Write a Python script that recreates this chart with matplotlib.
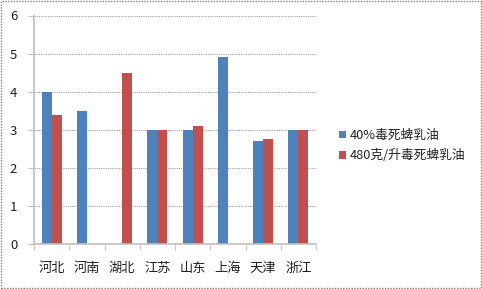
import matplotlib
matplotlib.use("Agg")
import matplotlib.pyplot as plt
import numpy as np
from matplotlib.patches import Rectangle

plt.rcParams['font.family'] = ['Noto Sans CJK SC', 'DejaVu Sans']

categories = ["河北", "河南", "湖北", "江苏", "山东", "上海", "天津", "浙江"]
series_names = ["40%毒死蜱乳油", "480克/升毒死蜱乳油"]
s1 = [4.0, 3.5, np.nan, 3.0, 3.0, 4.9, 2.7, 3.0]
s2 = [3.4, np.nan, 4.5, 3.0, 3.1, np.nan, 2.75, 3.0]
colors = ["#4F81BD", "#C0504D"]

fig = plt.figure(figsize=(4.82, 2.89), dpi=100)
ax = fig.add_axes([34/482, 1-244/289, (316-34)/482, (244-15.5)/289])

x = np.arange(len(categories))
w = 0.284
ax.bar(x - w/2, s1, w, color=colors[0], label=series_names[0])
ax.bar(x + w/2, s2, w, color=colors[1], label=series_names[1])

ax.set_xlim(-0.5, len(categories) - 0.5)
ax.set_ylim(0, 6)
ax.set_yticks(range(0, 7))
ax.yaxis.grid(True, color="#A0A0A0", linestyle=(0, (1, 1)), linewidth=0.8)
ax.set_axisbelow(True)
for s in ["top", "right"]:
    ax.spines[s].set_visible(False)
ax.spines["left"].set_color("#BFBFBF")
ax.spines["bottom"].set_color("#BFBFBF")
ax.spines["left"].set_linewidth(1.2)
ax.spines["bottom"].set_linewidth(1.2)
ax.set_xticks(x)
ax.set_xticklabels(categories, fontsize=9.5, color="#222222")
ax.tick_params(axis="x", length=0, pad=13)
ax.set_xticks(np.arange(-0.5, len(categories)), minor=True)
ax.tick_params(axis="x", which="minor", length=4, color="#BFBFBF")
ax.tick_params(axis="y", length=4, color="#BFBFBF", labelsize=9.5, labelcolor="#222222", pad=8)

leg = fig.legend(loc="upper left", bbox_to_anchor=(334/482, 1-124/289), frameon=False,
                 fontsize=9.2, handlelength=0.55, handleheight=0.55, handletextpad=0.3,
                 labelspacing=0.55, borderaxespad=0, labelcolor="#222222")

fig.patches.append(Rectangle((0.002, 0.003), 0.995, 0.993, transform=fig.transFigure,
                             fill=False, edgecolor="#808080", linestyle=(0, (1, 1)), linewidth=1))

fig.savefig("out.png", dpi=100)
